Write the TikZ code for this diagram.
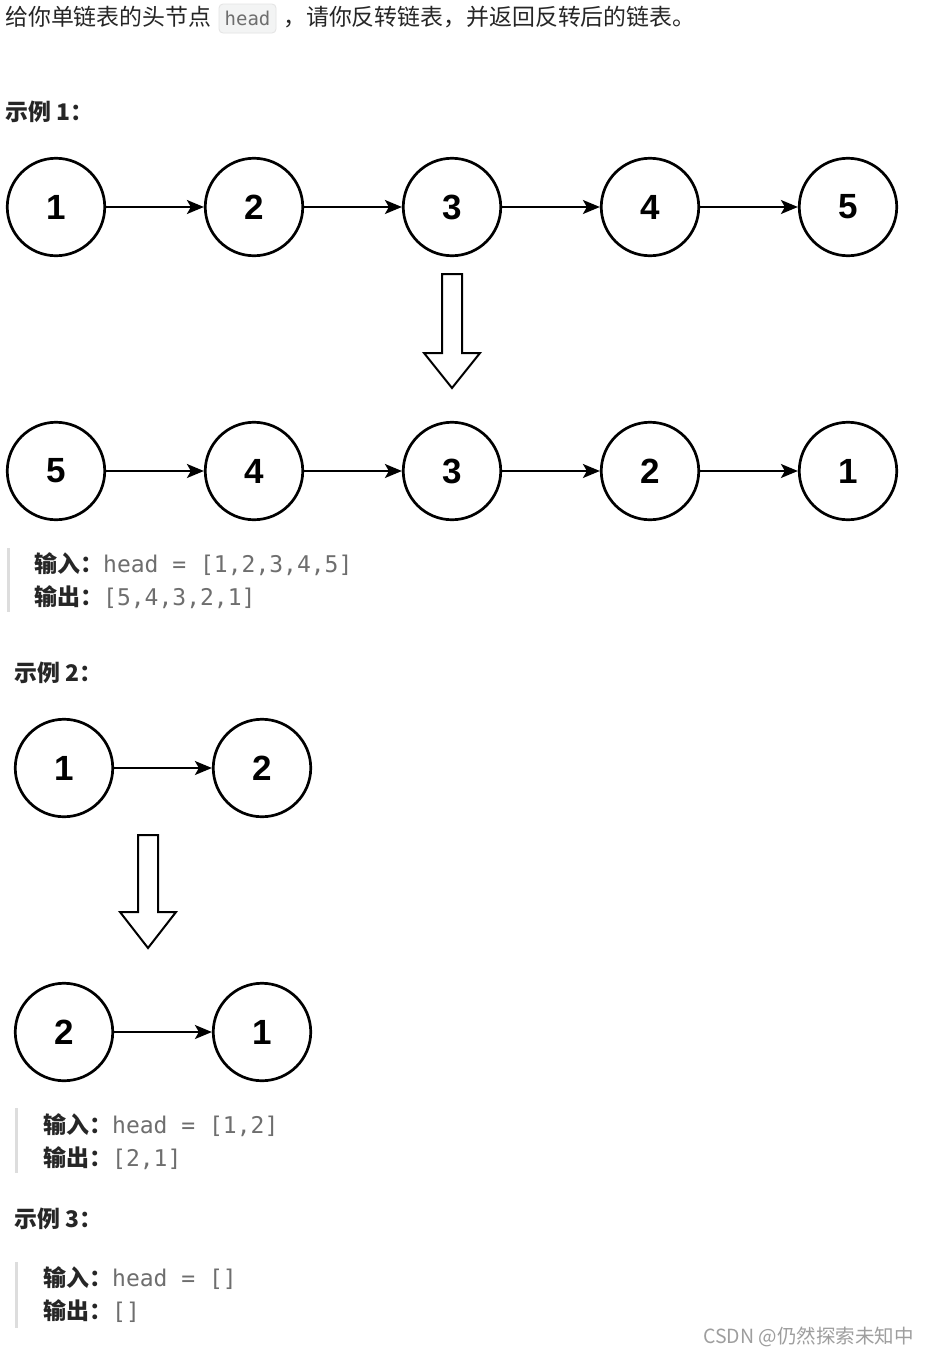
\documentclass[tikz,border=0pt]{standalone}
\usepackage{fontspec}
\setmainfont{Liberation Sans}
\newfontfamily\cjk{Noto Sans CJK SC}
\newfontfamily\monof{DejaVu Sans Mono}
\newfontfamily\numf{Liberation Sans}
\usetikzlibrary{arrows.meta}
\definecolor{txt}{HTML}{262626}
\definecolor{codec}{HTML}{6E6E6E}
\definecolor{barc}{HTML}{DDDDDD}
\definecolor{wmc}{HTML}{9E9E9E}
\definecolor{codebg}{HTML}{F3F4F4}
\definecolor{codebd}{HTML}{E3E3E3}
\tikzset{
  lnode/.style={circle, draw=black, line width=2.7pt, minimum size=97.5pt, inner sep=0pt,
     font=\numf\bfseries\fontsize{35}{35}\selectfont},
  link/.style={line width=2pt, -{Stealth[length=17pt,width=14pt,inset=4pt]}},
  blockarrow/.style={draw=black, line width=2pt, fill=white, line join=miter},
  plain/.style={anchor=west, inner sep=0pt, text=txt, font=\cjk\fontsize{22.9}{26}\selectfont},
  heading/.style={plain, font=\cjk\bfseries\fontsize{22.9}{26}\selectfont},
  qline/.style={anchor=west, inner sep=0pt, text=txt, font=\fontsize{23}{26}\selectfont},
  qbar/.style={fill=barc, draw=none},
}
\newcommand{\lab}[1]{{\cjk\bfseries #1}}
\newcommand{\code}[1]{{\monof\color{codec}#1}}
\begin{document}
\begin{tikzpicture}[x=1pt, y=-1pt]
\useasboundingbox[fill=white] (0,0) rectangle (927,1357);

% intro line
\node[plain] (t1) at (5,17) {给你单链表的头节点};
\draw[fill=codebg, draw=codebd, line width=0.8pt, rounded corners=4pt] (219,4) rectangle (276,33);
\node[inner sep=0pt, text=codec, font=\monof\fontsize{19}{22}\selectfont] (hc) at (247.5,18) {head};
\node[plain] (t2) at (283,17) {，请你反转链表，并返回反转后的链表。};

% example 1
\node[heading] (h1) at (5,112) {示例 1：};
\foreach \v [count=\i] in {1,2,3,4,5} {
  \node[lnode] (a\i) at ({56+198*(\i-1)},207) {\v};
}
\foreach \v [count=\i] in {5,4,3,2,1} {
  \node[lnode] (b\i) at ({56+198*(\i-1)},471) {\v};
}
\foreach \i/\j in {1/2,2/3,3/4,4/5} {
  \draw[link] (a\i) -- (a\j);
  \draw[link] (b\i) -- (b\j);
}
\draw[blockarrow] (442,274) -- (462,274) -- (462,353) -- (480,353) -- (452,388) -- (424,353) -- (442,353) -- cycle;

\fill[qbar] (7,548) rectangle (10,612);
\node[qline] (q1a) at (34,564) {\lab{输入：}\code{head = [1,2,3,4,5]}};
\node[qline] (q1b) at (34,597) {\lab{输出：}\code{[5,4,3,2,1]}};

% example 2
\node[heading] (h2) at (14,673) {示例 2：};
\node[lnode] (c1) at (64,768) {1};
\node[lnode] (c2) at (262,768) {2};
\draw[link] (c1) -- (c2);
\draw[blockarrow] (138,835) -- (158,835) -- (158,912) -- (176,912) -- (148,948) -- (120,912) -- (138,912) -- cycle;
\node[lnode] (d1) at (64,1032) {2};
\node[lnode] (d2) at (262,1032) {1};
\draw[link] (d1) -- (d2);

\fill[qbar] (15,1108) rectangle (18,1173);
\node[qline] (q2a) at (43,1125) {\lab{输入：}\code{head = [1,2]}};
\node[qline] (q2b) at (43,1158) {\lab{输出：}\code{[2,1]}};

% example 3
\node[heading] (h3) at (14,1219) {示例 3：};
\fill[qbar] (15,1262) rectangle (18,1328);
\node[qline] (q3a) at (43,1278) {\lab{输入：}\code{head = []}};
\node[qline] (q3b) at (43,1311) {\lab{输出：}\code{[]}};

% watermark
\node[anchor=west, inner sep=0pt, text=wmc, font=\cjk\fontsize{19.5}{22}\selectfont] (wm) at (703,1337) {CSDN @仍然探索未知中};
\end{tikzpicture}
\end{document}
